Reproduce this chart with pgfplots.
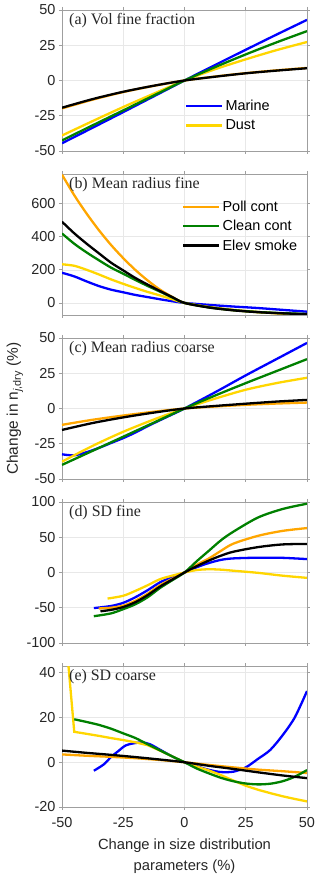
\documentclass[border=0pt]{standalone}
\usepackage{fontspec}
\setmainfont{Liberation Sans}
\newfontfamily\serif{Liberation Serif}
\usepackage{pgfplots}
\pgfplotsset{compat=1.18}

\definecolor{mblue}{rgb}{0,0,1}
\definecolor{mgold}{rgb}{1,0.84,0}
\definecolor{morange}{rgb}{1,0.65,0}
\definecolor{mgreen}{rgb}{0,0.5,0}

\pgfplotsset{
  panel/.style={
    scale only axis, width=245bp, height=141bp,
    anchor=south west,
    xmin=-50, xmax=50, xtick={-50,-25,0,25,50},
    tick align=outside, major tick length=3bp,
    axis line style={gray!75, line width=0.6bp},
    tick style={gray!75, line width=0.6bp},
    grid=major, grid style={gray!18, line width=0.5bp},
    ticklabel style={font=\fontsize{14.5}{17}\selectfont, text=black!85},
    xticklabel style={yshift=-4bp},
    /pgf/number format/assume math mode=true,
    every axis plot/.append style={line width=2.3bp, smooth},
    legend style={draw=none, fill=none, font=\fontsize{14.5}{17}\selectfont,
      row sep=3.5bp, cells={anchor=west}, anchor=north west},
    legend image code/.code={\draw[#1] (0bp,0bp) -- (36bp,0bp);},
  },
}
\tikzset{
  ptitle/.style={font=\serif\fontsize{16}{19}\selectfont, anchor=west,
    inner sep=0pt, text=black!85, xshift=7bp, yshift=-10.5bp},
}

\begin{document}
\begin{tikzpicture}
\path[use as bounding box] (-62bp,-72bp) rectangle (258bp,807bp);

% (a) Vol fine fraction
\begin{axis}[panel, at={(0,656bp)}, ymin=-50, ymax=50, ytick={-50,-25,0,25,50},
  xticklabels={}, legend style={at={(rel axis cs:0.49,0.39)}}]
\addplot[mblue] coordinates {(-50,-44.5)(-37.5,-33.5)(-25,-22.4)(-12.5,-11.2)(0,0)(12.5,11)(25,21.8)(37.5,32.5)(50,43)};
\addplot[mgold] coordinates {(-50,-39)(-37.5,-28.8)(-25,-18.8)(-12.5,-9.3)(0,0)(12.5,8)(25,15)(37.5,21.5)(50,27.3)};
\addplot[morange] coordinates {(-50,-19.8)(-37.5,-13.6)(-25,-8.2)(-12.5,-3.8)(0,0)(12.5,2.8)(25,5.2)(37.5,7.2)(50,8.9)};
\addplot[mgreen] coordinates {(-50,-42.5)(-37.5,-31.8)(-25,-21.2)(-12.5,-10.6)(0,0)(12.5,9.5)(25,18.5)(37.5,27)(50,35)};
\addplot[black] coordinates {(-50,-19.3)(-37.5,-13.2)(-25,-8)(-12.5,-3.7)(0,0)(12.5,2.7)(25,5.1)(37.5,7)(50,8.7)};
\legend{Marine,Dust}
\node[ptitle] at (rel axis cs:0,1) {(a) Vol fine fraction};
\end{axis}

% (b) Mean radius fine
\begin{axis}[panel, at={(0,492bp)}, ymin=-73, ymax=778, ytick={0,200,400,600},
  xticklabels={}, legend style={at={(rel axis cs:0.478,0.84)}}]
\addplot[mblue, forget plot] coordinates {(-50,182)(-45,160)(-40,130)(-35,102)(-30,80)(-25,64)(-20,48)(-15,35)(-10,22)(-5,10)(0,0)(10,-12)(20,-22)(30,-31)(40,-42)(50,-53)};
\addplot[mgold, forget plot] coordinates {(-50,233)(-45,224)(-40,200)(-35,172)(-30,142)(-25,115)(-20,90)(-15,66)(-10,45)(-5,22)(0,0)(10,-26)(20,-44)(30,-56)(40,-64)(50,-70)};
\addplot[morange] coordinates {(-50,774)(-45,650)(-40,540)(-35,440)(-30,350)(-25,270)(-20,198)(-15,135)(-10,80)(-5,36)(0,0)(10,-25)(20,-42)(30,-55)(40,-65)(50,-73)};
\addplot[mgreen] coordinates {(-50,419)(-45,357)(-40,305)(-35,258)(-30,213)(-25,176)(-20,138)(-15,102)(-10,68)(-5,33)(0,0)(10,-27)(20,-44)(30,-55)(40,-62)(50,-67)};
\addplot[black] coordinates {(-50,490)(-45,420)(-40,358)(-35,300)(-30,243)(-25,196)(-20,150)(-15,110)(-10,72)(-5,35)(0,0)(10,-28)(20,-45)(30,-56)(40,-63)(50,-68)};
\legend{Poll cont,Clean cont,Elev smoke}
\node[ptitle] at (rel axis cs:0,1) {(b) Mean radius fine};
\end{axis}

% (c) Mean radius coarse
\begin{axis}[panel, at={(0,328bp)}, ymin=-50, ymax=50, ytick={-50,-25,0,25,50},
  xticklabels={},
  ylabel={Change in n\textsubscript{\textit{j},dry} (\%)},
  ylabel style={at={(axis description cs:-0.192,0.5)}, anchor=center,
    font=\fontsize{15.5}{18}\selectfont, text=black!85}]
\addplot[mblue] coordinates {(-50,-32.5)(-45,-33.2)(-40,-31)(-35,-28)(-30,-24.5)(-25,-21)(-20,-17)(-15,-12.5)(-10,-8.3)(-5,-4.2)(0,0)(12.5,11.5)(25,23.5)(37.5,35)(50,46.5)};
\addplot[mgold] coordinates {(-50,-37.7)(-37.5,-26.5)(-25,-16.5)(-12.5,-7.8)(0,0)(12.5,7)(25,13.3)(37.5,18)(50,21.8)};
\addplot[morange] coordinates {(-50,-11.6)(-37.5,-8)(-25,-5)(-12.5,-2.3)(0,0)(12.5,1.4)(25,2.6)(37.5,3.5)(50,4.2)};
\addplot[mgreen] coordinates {(-50,-40)(-37.5,-30)(-25,-20)(-12.5,-10)(0,0)(12.5,9.2)(25,18)(37.5,26.5)(50,35)};
\addplot[black] coordinates {(-50,-15.2)(-37.5,-10.3)(-25,-6.3)(-12.5,-2.9)(0,0)(12.5,1.8)(25,3.4)(37.5,4.9)(50,6.1)};
\node[ptitle] at (rel axis cs:0,1) {(c) Mean radius coarse};
\end{axis}

% (d) SD fine
\begin{axis}[panel, at={(0,164bp)}, ymin=-100, ymax=100, ytick={-100,-50,0,50,100},
  xticklabels={}]
\addplot[mblue] coordinates {(-37,-50.5)(-30,-47.5)(-25,-43)(-20,-35)(-15,-25)(-10,-14)(-5,-6.5)(0,0)(5,7.5)(10,13.5)(15,18)(20,20)(30,21)(40,20.8)(50,19)};
\addplot[mgold] coordinates {(-31.4,-37)(-25,-33)(-20,-26)(-15,-18)(-10,-9.5)(-5,-4.5)(0,0)(5,3.5)(10,4.6)(15,4)(20,2.5)(30,-0.5)(40,-4.5)(50,-7.6)};
\addplot[morange] coordinates {(-35,-51)(-30,-50)(-25,-47)(-20,-40)(-15,-30)(-10,-18)(-5,-9)(0,0)(5,11)(10,20)(15,31)(20,41)(30,52)(40,59)(50,63)};
\addplot[mgreen] coordinates {(-37,-62)(-30,-58)(-25,-52)(-20,-45)(-15,-35)(-10,-22)(-5,-11)(0,0)(5,16)(10,31)(15,46)(20,58)(30,78)(40,90)(50,97.6)};
\addplot[black] coordinates {(-34.3,-55)(-30,-53)(-25,-49)(-20,-42)(-15,-32)(-10,-20)(-5,-10)(0,0)(5,9)(10,17)(15,24)(20,29.5)(30,36)(40,39.8)(50,40.5)};
\node[ptitle] at (rel axis cs:0,1) {(d) SD fine};
\end{axis}

% (e) SD coarse
\begin{axis}[panel, at={(0,0bp)}, ymin=-20, ymax=43, ytick={-20,0,20,40},
  xlabel={Change in size distribution\\parameters (\%)},
  xlabel style={at={(axis description cs:0.5,0)}, anchor=center, yshift=-49.5bp,
    align=center, font=\fontsize{14.8}{21}\selectfont, text=black!85}]
\addplot[mblue] coordinates {(-37,-3.8)(-33,-1)(-30,2.3)(-27,5)(-24,7.5)(-20,8.6)(-17,8.8)(-14,8)(-10,5.6)(-5,2.6)(0,0)(5,-1.8)(10,-3.4)(15,-4.4)(20,-4.2)(25,-2.3)(30,1.5)(35,5.5)(40,12)(45,20)(50,31.8)};
\addplot[mgold, sharp plot] coordinates {(-50,76)(-45,13.6)(-40,12.7)(-35,11.8)(-30,10.8)(-25,9.9)(-20,8.9)(-15,7.6)(-10,5.2)(-5,2.6)(0,0)(5,-1.9)(10,-3.7)(15,-5.8)(20,-8.2)(25,-10.5)(30,-12.3)(35,-13.8)(40,-15.2)(45,-16.4)(50,-17.5)};
\addplot[morange] coordinates {(-50,3.5)(-40,2.9)(-30,2.4)(-20,1.8)(-10,1)(0,0)(10,-1.2)(20,-2.3)(30,-3.3)(40,-4)(50,-4.8)};
\addplot[mgreen] coordinates {(-45,19.2)(-40,18)(-35,16.7)(-30,15)(-25,12.9)(-20,10.8)(-15,8)(-10,5.3)(-5,2.6)(0,0)(5,-2.8)(10,-5)(15,-7)(20,-8.5)(25,-9.5)(30,-9.9)(35,-9.6)(40,-8.5)(45,-6.5)(50,-3.5)};
\addplot[black] coordinates {(-50,5.2)(-40,4.2)(-30,3.3)(-20,2.3)(-10,1.2)(0,0)(10,-1.6)(20,-3)(30,-4.5)(40,-5.9)(50,-7.1)};
\node[ptitle] at (rel axis cs:0,1) {(e) SD coarse};
\end{axis}
\end{tikzpicture}
\end{document}
